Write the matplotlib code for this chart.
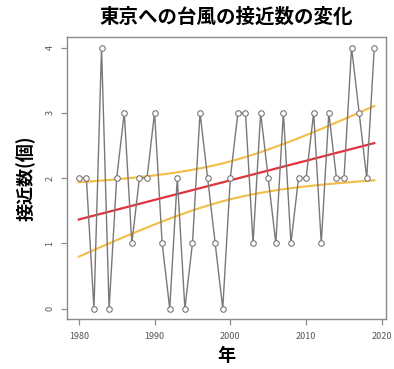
import numpy as np
import matplotlib
matplotlib.use("Agg")
import matplotlib.pyplot as plt

plt.rcParams['font.family'] = ['Noto Sans CJK JP', 'DejaVu Sans']

# 東京への台風の接近数 (1980-2019)
years = np.arange(1980, 2020)
counts = np.array([
    2, 2, 0, 4, 0, 2, 3, 1, 2, 2,
    3, 1, 0, 2, 0, 1, 3, 2, 1, 0,
    2, 3, 3, 1, 3, 2, 1, 3, 1, 2,
    2, 3, 1, 3, 2, 2, 4, 3, 2, 4,
])
xticks = [1980, 1990, 2000, 2010, 2020]
yticks = [0, 1, 2, 3, 4]

# linear fit with 90% confidence band
n = len(years)
slope, intercept = np.polyfit(years, counts, 1)
fit = intercept + slope * years
resid = counts - fit
s = np.sqrt(np.sum(resid ** 2) / (n - 2))
sxx = np.sum((years - years.mean()) ** 2)
t_crit = 1.686  # t(0.95, df=38)
se = s * np.sqrt(1 / n + (years - years.mean()) ** 2 / sxx)
upper = fit + t_crit * se
lower = fit - t_crit * se

fig = plt.figure(figsize=(3.94, 3.69), dpi=100)
ax = fig.add_axes([0.170, 0.1355, 0.810, 0.764])

ax.plot(years, counts, color='#7d7676', lw=1.0, marker='o', ms=4.0,
        mfc='white', mec='#7d7676', mew=0.8, zorder=3)
ax.plot(years, fit, color='#e2323c', lw=1.6, zorder=2)
ax.plot(years, upper, color='#f3bd45', lw=1.5, zorder=2)
ax.plot(years, lower, color='#f3bd45', lw=1.5, zorder=2)

xr = years.max() - years.min()
ax.set_xlim(years.min() - 0.04 * xr, years.max() + 0.04 * xr)
ax.set_ylim(-0.16, 4.16)
ax.set_xticks(xticks)
ax.set_yticks(yticks)
ax.set_yticklabels([str(v) for v in yticks], rotation=90, va='center')

for sp in ax.spines.values():
    sp.set_color('#8c8c8c')
    sp.set_linewidth(1.0)
ax.tick_params(axis='both', colors='#8c8c8c', labelcolor='#555555',
               labelsize=6.5, length=4, width=0.9, direction='out', pad=5)

ax.set_title('東京への台風の接近数の変化', fontsize=14, fontweight='bold', pad=10)
ax.set_xlabel('年', fontsize=13, fontweight='bold', labelpad=4)
ax.set_ylabel('接近数(個)', fontsize=13, fontweight='bold', labelpad=7)

fig.savefig('out.png', dpi=100)
